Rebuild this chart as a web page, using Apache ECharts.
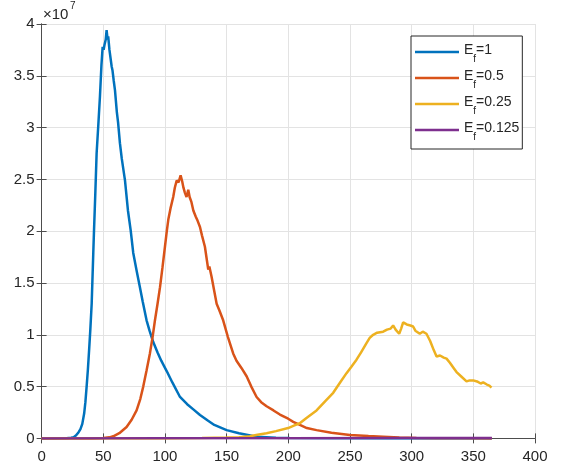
<!DOCTYPE html>
<html>
<head>
<meta charset="utf-8">
<script src="https://cdn.jsdelivr.net/npm/echarts@6/dist/echarts.min.js"></script>
<style>
html,body{margin:0;padding:0;background:#fff;}
#c{width:562px;height:470px;}
</style>
</head>
<body>
<div id="c"></div>
<script>
// x ticks and y ticks (y values in units of 10^7)
const xTicks = [0, 50, 100, 150, 200, 250, 300, 350, 400];
const yTicks = [0, 0.5, 1, 1.5, 2, 2.5, 3, 3.5, 4];
const seriesNames = ['E_f=1', 'E_f=0.5', 'E_f=0.25', 'E_f=0.125'];

// [day, value ×10^7]
const blue = [[0,0],[10,0],[20,0.002],[24,0.006],[26,0.012],[28,0.03],[30,0.06],[31.5,0.09],[33,0.14],[34.5,0.24],[35.5,0.35],[36.5,0.50],[37.5,0.66],[38.5,0.85],[39.5,1.05],[40.6,1.30],[41.9,1.79],[42.5,2.01],[43.5,2.35],[44.6,2.75],[46,3.03],[47.3,3.30],[48.5,3.6],[49.5,3.78],[50.3,3.75],[51,3.80],[52,3.85],[52.7,3.94],[53.5,3.85],[54,3.88],[55,3.75],[56.8,3.59],[57.5,3.55],[58.5,3.45],[59.5,3.36],[61,3.15],[62,3.05],[63.5,2.85],[65,2.7],[67.6,2.49],[70,2.2],[72.2,2.01],[74.3,1.79],[77,1.62],[79.7,1.46],[82,1.32],[85.1,1.14],[87.5,1.04],[90.5,0.93],[94,0.83],[97,0.75],[101.4,0.65],[106,0.54],[112.2,0.40],[118,0.33],[123,0.28],[128.4,0.226],[135,0.17],[140,0.13],[150,0.08],[160,0.05],[174.3,0.016],[190,0.006],[201,0.003],[230,0.001],[280,0],[365,0]];
const orange = [[0,0],[40,0],[50,0.003],[55,0.01],[58.1,0.02],[63,0.05],[68.9,0.11],[73,0.18],[77,0.27],[80,0.38],[82.4,0.50],[85,0.65],[87.8,0.82],[90,0.98],[91.9,1.14],[94,1.30],[96,1.46],[98,1.65],[100,1.85],[101.5,2.0],[102.7,2.11],[104.5,2.22],[106.7,2.33],[108,2.42],[109.5,2.49],[111,2.47],[112.7,2.54],[114,2.48],[115,2.42],[116.2,2.37],[117.5,2.33],[118.9,2.40],[120,2.33],[121.5,2.28],[123,2.20],[125,2.14],[126.5,2.10],[128.4,2.04],[130,1.96],[132.4,1.85],[134,1.72],[135.1,1.63],[136,1.66],[137.8,1.56],[140,1.42],[141.9,1.30],[144,1.24],[147.2,1.14],[151,0.98],[155.3,0.82],[158,0.75],[162,0.68],[166.2,0.60],[170,0.50],[174.3,0.40],[178,0.35],[182.4,0.31],[188,0.27],[193.2,0.23],[199.9,0.19],[204,0.16],[209.4,0.13],[215,0.10],[222.9,0.08],[235,0.055],[249.9,0.033],[265,0.022],[276.9,0.016],[290,0.009],[303.9,0.005],[320,0.002],[340,0.001],[365,0]];
const yellow = [[0,0],[100,0],[130,0.003],[150,0.008],[160,0.012],[168.9,0.02],[175,0.035],[182.4,0.05],[190,0.07],[199.9,0.10],[205,0.125],[209.3,0.146],[215,0.2],[222.9,0.27],[230,0.36],[236.4,0.44],[242,0.54],[247.2,0.63],[251,0.69],[255.3,0.76],[259,0.83],[263.4,0.92],[266,0.97],[268.8,1.00],[272,1.02],[276.9,1.03],[280,1.05],[283,1.06],[285,1.09],[287,1.05],[289.9,1.01],[291.5,1.06],[293.1,1.12],[296,1.10],[299,1.09],[301.2,1.08],[303,1.04],[306.6,1.01],[309,1.03],[312,1.01],[315,0.94],[318,0.85],[320.2,0.79],[323,0.80],[326,0.78],[328.3,0.77],[331,0.73],[334,0.68],[336.4,0.64],[340,0.60],[344.5,0.55],[347,0.56],[349.9,0.56],[353,0.55],[356,0.53],[358,0.54],[361,0.52],[363,0.51],[364.7,0.49]];
const purple = [[0,0],[100,0.001],[200,0.002],[300,0.003],[365,0.003]];

const colors = ['#0072BD', '#D95319', '#EDB120', '#7E2F8E'];
const FONT = "'Liberation Sans', Arial, Helvetica, sans-serif";
const AXC = '#4d4d4d';
const GRIDC = '#e3e3e3';

const chart = echarts.init(document.getElementById('c'));

function fmtY(v){ return String(Math.round(v*10)/10); }

const baseAxis = {
  axisLine: {show: true, lineStyle: {color: AXC, width: 1}},
  axisTick: {show: true, inside: true, length: 5, lineStyle: {color: AXC}},
};

const option = {
  animation: false,
  backgroundColor: '#fff',
  color: colors,
  grid: {left: 41.6, right: 27, top: 24, bottom: 31.6, containLabel: false, outerBoundsMode: 'none'},
  xAxis: [
    Object.assign({}, baseAxis, {
      type: 'value', min: xTicks[0], max: xTicks[xTicks.length-1], interval: 50, position: 'bottom',
      splitLine: {show: true, lineStyle: {color: GRIDC}},
      axisLabel: {color: '#262626', fontSize: 15, fontFamily: FONT, margin: 11},
    }),
    Object.assign({}, baseAxis, {
      type: 'value', min: xTicks[0], max: xTicks[xTicks.length-1], interval: 50, position: 'top',
      splitLine: {show: false}, axisLabel: {show: false},
    }),
  ],
  yAxis: [
    Object.assign({}, baseAxis, {
      type: 'value', min: yTicks[0], max: yTicks[yTicks.length-1], interval: 0.5, position: 'left',
      splitLine: {show: true, lineStyle: {color: GRIDC}},
      axisLabel: {color: '#262626', fontSize: 15, fontFamily: FONT, margin: 7, formatter: fmtY},
    }),
    Object.assign({}, baseAxis, {
      type: 'value', min: yTicks[0], max: yTicks[yTicks.length-1], interval: 0.5, position: 'right',
      splitLine: {show: false}, axisLabel: {show: false},
    }),
  ],
  legend: {
    orient: 'vertical',
    left: 411, top: 36,
    padding: [7, 3, 7, 4],
    itemGap: 5,
    itemWidth: 44, itemHeight: 2.5,
    icon: 'rect',
    backgroundColor: '#fff',
    borderColor: '#262626', borderWidth: 1, borderRadius: 0,
    data: seriesNames,
    formatter: function(name){
      const parts = name.split('_f');
      return '{e|' + parts[0] + '}{s|f}{e|' + parts[1] + '}';
    },
    textStyle: {
      fontFamily: FONT, color: '#262626', fontSize: 14,
      rich: {
        e: {fontSize: 14, fontFamily: FONT, color: '#262626', lineHeight: 18, verticalAlign: 'top'},
        s: {fontSize: 10, fontFamily: FONT, color: '#262626', lineHeight: 12, verticalAlign: 'top', padding: [11, 0, 0, 0]}
      }
    }
  },
  graphic: [
    {type: 'text', left: 43, top: 7, style: {text: '×10', fontSize: 15, fontFamily: FONT, fill: '#262626'}},
    {type: 'text', left: 70, top: 1, style: {text: '7', fontSize: 10, fontFamily: FONT, fill: '#262626'}},
  ],
  series: [blue, orange, yellow, purple].map((d, i) => ({
    name: seriesNames[i],
    type: 'line',
    data: d,
    showSymbol: false,
    symbol: 'none',
    lineStyle: {width: 2.5, color: colors[i]},
    itemStyle: {color: colors[i]},
    xAxisIndex: 0, yAxisIndex: 0,
    z: 2 + i,
  })),
};
chart.setOption(option);
</script>
</body>
</html>
